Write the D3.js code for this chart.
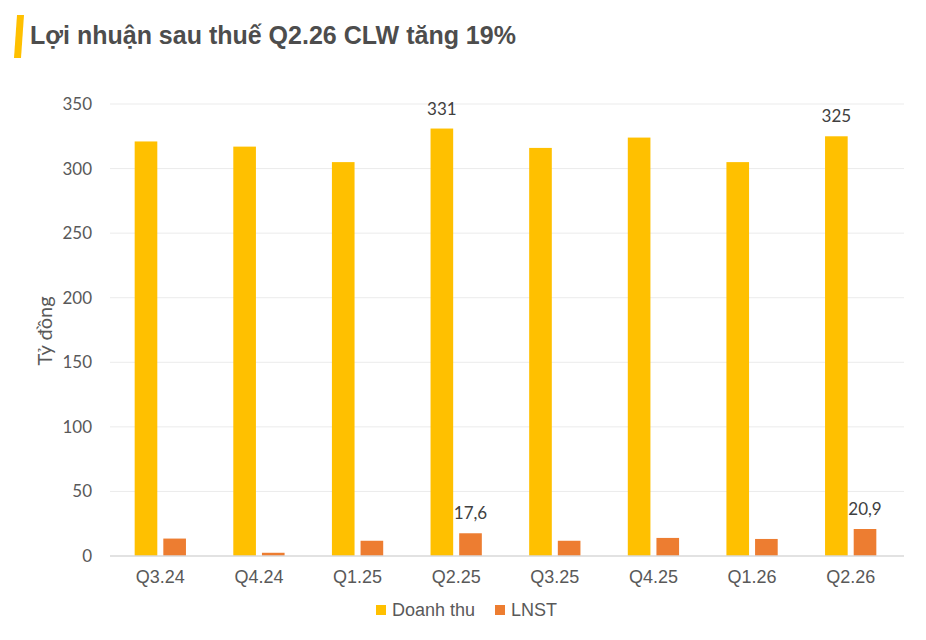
<!DOCTYPE html>
<html>
<head>
<meta charset="utf-8">
<script src="https://cdn.jsdelivr.net/npm/d3@7"></script>
<style>
  body { margin:0; background:#fff; }
  svg { display:block; }
</style>
</head>
<body>
<div id="chart"></div>
<script>
const quarters = ["Q3.24","Q4.24","Q1.25","Q2.25","Q3.25","Q4.25","Q1.26","Q2.26"]
const revenue  = [321, 317, 305, 331, 316, 324, 305, 325]
const profit   = [13.5, 2.5, 11.8, 17.6, 11.8, 14, 13.2, 20.9]
const seriesNames = ["Doanh thu", "LNST"]
const seriesColors = ["#FFC000", "#ED7D31"]
const yTicks = [0, 50, 100, 150, 200, 250, 300, 350]
// labels shown only on these bars
const labelled = ["Q2.25", "Q2.26"]

const W = 926, H = 640
const svg = d3.select("#chart").append("svg")
  .attr("width", W).attr("height", H)

// title with yellow accent
svg.append("path")
  .attr("d", "M17 15 L24 15 L21 58 L14 58 Z")
  .attr("fill", "#FFC000")
svg.append("text")
  .attr("x", 30).attr("y", 44)
  .attr("font-family", "Liberation Sans, Arial, sans-serif")
  .attr("font-weight", "bold")
  .attr("font-size", 25)
  .attr("fill", "#4d4d4d")
  .text("Lợi nhuận sau thuế Q2.26 CLW tăng 19%")

const x0 = d3.scaleBand().domain(quarters).range([111, 900])
  .paddingInner(0.48).paddingOuter(0.24)
const x1 = d3.scaleBand().domain(seriesNames).range([0, x0.bandwidth()])
  .paddingInner(0.21)
const y = d3.scaleLinear().domain([0, 350]).range([556, 104])

// gridlines
svg.append("g")
  .selectAll("line")
  .data(yTicks.filter(d => d > 0))
  .enter().append("line")
  .attr("x1", 110).attr("x2", 904)
  .attr("y1", d => y(d)).attr("y2", d => y(d))
  .attr("stroke", "#ebebeb").attr("stroke-width", 1)

// y axis labels
svg.append("g")
  .attr("transform", "translate(110,0)")
  .call(d3.axisLeft(y).tickValues(yTicks).tickSize(0).tickPadding(18))
  .call(g => g.select(".domain").remove())
  .selectAll("text")
  .attr("font-family", "Lato, Carlito, sans-serif")
  .attr("font-size", 17)
  .attr("fill", "#595959")

svg.append("text")
  .attr("transform", "translate(52,331) rotate(-90)")
  .attr("text-anchor", "middle")
  .attr("font-family", "Lato, Carlito, sans-serif")
  .attr("font-size", 20)
  .attr("fill", "#595959")
  .text("Tỷ đồng")

const rows = quarters.map((q, i) => ({q: q, vals: [revenue[i], profit[i]]}))

const groups = svg.append("g").selectAll("g")
  .data(rows).enter().append("g")
  .attr("transform", d => "translate(" + x0(d.q) + ",0)")

groups.selectAll("rect")
  .data(d => d.vals.map((v, k) => ({q: d.q, s: seriesNames[k], v: v, k: k})))
  .enter().append("rect")
  .attr("x", d => x1(d.s))
  .attr("width", x1.bandwidth())
  .attr("y", d => y(d.v))
  .attr("height", d => y(0) - y(d.v))
  .attr("fill", d => seriesColors[d.k])

groups.selectAll("text")
  .data(d => labelled.includes(d.q)
    ? d.vals.map((v, k) => ({s: seriesNames[k], v: v})) : [])
  .enter().append("text")
  .attr("x", d => x1(d.s) + x1.bandwidth() / 2)
  .attr("y", d => y(d.v) - 14)
  .attr("text-anchor", "middle")
  .attr("font-family", "Lato, Carlito, sans-serif")
  .attr("font-size", 17)
  .attr("fill", "#404040")
  .text(d => d3.format(",")(d.v).replace(".", ","))

// x axis
svg.append("g")
  .attr("transform", "translate(0,556)")
  .call(d3.axisBottom(x0).tickSize(0).tickPadding(14))
  .call(g => g.select(".domain")
    .attr("d", "M110,0H904").attr("stroke", "#d9d9d9").attr("stroke-width", 1.5))
  .selectAll("text")
  .attr("font-family", "Liberation Sans, Arial, sans-serif")
  .attr("font-size", 18)
  .attr("fill", "#595959")

// legend
const legend = svg.append("g").attr("transform", "translate(376,610)")
const lx = [0, 119]
seriesNames.forEach((s, k) => {
  legend.append("rect")
    .attr("x", lx[k]).attr("y", -5)
    .attr("width", 10).attr("height", 10)
    .attr("fill", seriesColors[k])
  legend.append("text")
    .attr("x", lx[k] + 16).attr("y", 6)
    .attr("font-family", "Liberation Sans, Arial, sans-serif")
    .attr("font-size", 18)
    .attr("fill", "#595959")
    .text(s)
})
</script>
</body>
</html>
